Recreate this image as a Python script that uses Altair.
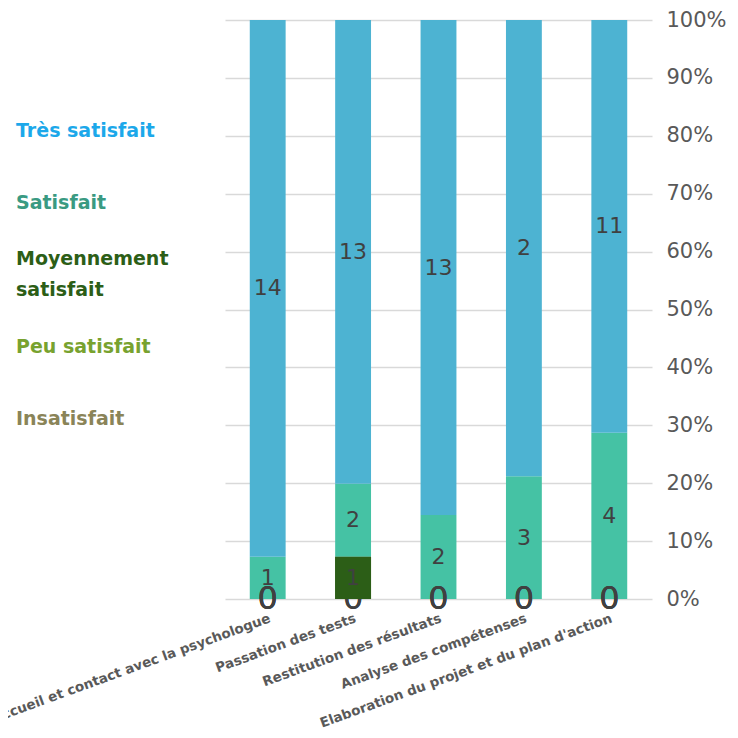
import altair as alt
import pandas as pd

categories = [
    "Accueil et contact avec la psychologue",
    "Passation des tests",
    "Restitution des résultats",
    "Analyse des compétenses",
    "Elaboration du projet et du plan d'action",
]
series = ["Très satisfait", "Satisfait", "Moyennement satisfait", "Peu satisfait", "Insatisfait"]

# counts shown as labels
counts = {
    "Très satisfait": [14, 13, 13, 2, 11],
    "Satisfait": [1, 2, 2, 3, 4],
    "Moyennement satisfait": [0, 1, 0, 0, 0],
    "Peu satisfait": [0, 0, 0, 0, 0],
    "Insatisfait": [0, 0, 0, 0, 0],
}
# segment heights (percent)
shares = {
    "Très satisfait": [92.7, 80.1, 85.5, 78.8, 71.3],
    "Satisfait": [7.3, 12.6, 14.5, 21.2, 28.7],
    "Moyennement satisfait": [0, 7.3, 0, 0, 0],
    "Peu satisfait": [0, 0, 0, 0, 0],
    "Insatisfait": [0, 0, 0, 0, 0],
}
bar_colors = ["#4db3d2", "#45c2a4", "#2c5e17", "#7fa832", "#8a8a5c"]
label_colors = ["#1ca8ea", "#3a9a82", "#2c5e17", "#78a22f", "#8a8458"]

rows = []
for s_i, s in enumerate(series):
    for c_i, c in enumerate(categories):
        rows.append({
            "cat": c,
            "series": s,
            "order": len(series) - s_i,
            "share": shares[s][c_i],
            "count": counts[s][c_i],
        })
df = pd.DataFrame(rows)

font = "DejaVu Sans"

label_color_expr = " : ".join(
    [f"datum.label === '{s}' ? '{col}'" for s, col in zip(series[:-1], label_colors[:-1])]
) + f" : '{label_colors[-1]}'"

x = alt.X(
    "cat:N", sort=categories, title=None,
    scale=alt.Scale(paddingInner=0.58, paddingOuter=0.29),
    axis=alt.Axis(labelAngle=-20, labelFont=font, labelFontSize=13.5, labelFontWeight="bold",
                  labelColor="#595959", domain=False, ticks=False, labelPadding=12,
                  labelLimit=500, labelAlign="right", labelBaseline="top"),
)

base = alt.Chart(df).transform_stack(
    stack="share", as_=["y0", "y1"], groupby=["cat"], sort=[alt.SortField("order", "ascending")]
).transform_calculate(mid="(datum.y0 + datum.y1) / 2")

color = alt.Color(
    "series:N",
    scale=alt.Scale(domain=series, range=bar_colors),
    legend=alt.Legend(
        title=None, orient="none", legendX=-273, legendY=81,
        symbolSize=3600, symbolOpacity=0, symbolStrokeWidth=0, symbolType="square",
        labelFont=font, labelFontSize=19, labelFontWeight="bold",
        labelColor=alt.ExprRef(label_color_expr),
        labelBaseline=alt.ExprRef(
            "datum.label === 'Moyennement satisfait' ? 'line-bottom' : 'middle'"),
        labelExpr="datum.label === 'Moyennement satisfait' ? ['Moyennement', 'satisfait'] : datum.label",
        labelOffset=4, rowPadding=12, labelLimit=300,
        padding=0,
    ),
)

bars = base.mark_bar().encode(
    x=x,
    y=alt.Y("y0:Q", title=None,
            scale=alt.Scale(domain=[0, 100], nice=False),
            axis=alt.Axis(orient="right", values=list(range(0, 101, 10)),
                          labelExpr="datum.value + '%'", labelFont=font, labelFontSize=21,
                          labelColor="#595959", domain=False, ticks=False, labelPadding=14,
                          gridColor="#d9d9d9", gridWidth=1.5)),
    y2="y1:Q",
    color=color,
    order=alt.Order("order:Q"),
)

zero_labels = base.transform_filter("datum.share == 0").mark_text(
    font=font, color="#404040", baseline="middle", fontSize=32
).encode(x=x, y=alt.Y("mid:Q"), text=alt.Text("count:Q"))

# the dark segment is drawn over the zero labels, as in the reference
dark_bars = base.transform_filter(
    "datum.series === 'Moyennement satisfait' && datum.share > 0"
).mark_bar().encode(x=x, y="y0:Q", y2="y1:Q", color=color)

labels = base.transform_filter("datum.share > 0").mark_text(
    font=font, color="#404040", baseline="middle", fontSize=22
).encode(x=x, y=alt.Y("mid:Q"), text=alt.Text("count:Q"))

chart = alt.layer(bars, zero_labels, dark_bars, labels).properties(
    width=427, height=579,
    autosize=alt.AutoSizeParams(type="none"),
    padding={"left": 217, "top": 12, "right": 78, "bottom": 131},
).configure(style={"guide-label": {"lineHeight": 31}}).configure_view(stroke=None)

chart.save("out.html", embed_options={"renderer": "svg", "actions": False})
